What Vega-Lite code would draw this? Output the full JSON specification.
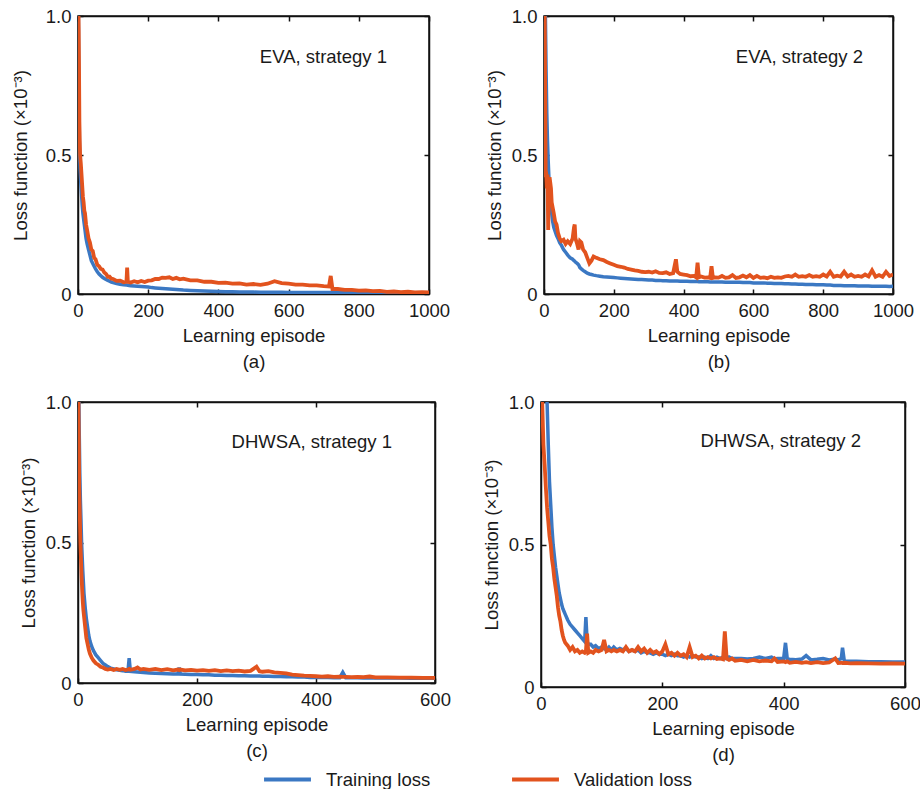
{
  "$schema": "https://vega.github.io/schema/vega-lite/v6.json",
  "background": "white",
  "padding": {"left": 10, "top": 6, "right": 0, "bottom": 0},
  "datasets": {
    "a": [
      {"x":0,"t":1.2,"v":1.2},{"x":1,"t":1.0,"v":1.05},{"x":2,"t":0.82,"v":0.95},{"x":3,"t":0.68,"v":0.8},{"x":4,"t":0.55,"v":0.62},{"x":5,"t":0.5,"v":0.55},{"x":6,"t":0.45,"v":0.5},{"x":8,"t":0.4,"v":0.47},{"x":10,"t":0.36,"v":0.43},{"x":12,"t":0.32,"v":0.39},{"x":14,"t":0.29,"v":0.35},{"x":16,"t":0.27,"v":0.33},{"x":18,"t":0.25,"v":0.30},{"x":20,"t":0.23,"v":0.29},{"x":23,"t":0.2,"v":0.25},{"x":26,"t":0.18,"v":0.23},{"x":30,"t":0.16,"v":0.2},{"x":34,"t":0.14,"v":0.185},{"x":38,"t":0.12,"v":0.16},{"x":42,"t":0.11,"v":0.155},{"x":46,"t":0.1,"v":0.13},{"x":50,"t":0.09,"v":0.125},{"x":55,"t":0.08,"v":0.105},{"x":60,"t":0.072,"v":0.1},{"x":65,"t":0.066,"v":0.09},{"x":70,"t":0.06,"v":0.088},{"x":75,"t":0.056,"v":0.077},{"x":80,"t":0.052,"v":0.072},{"x":85,"t":0.049,"v":0.062},{"x":90,"t":0.046,"v":0.062},{"x":95,"t":0.043,"v":0.055},{"x":100,"t":0.041,"v":0.054},{"x":110,"t":0.038,"v":0.047},{"x":120,"t":0.035,"v":0.048},{"x":130,"t":0.033,"v":0.042},{"x":138,"t":0.032,"v":0.044},{"x":140,"t":0.032,"v":0.095},{"x":142,"t":0.031,"v":0.044},{"x":150,"t":0.03,"v":0.041},{"x":160,"t":0.029,"v":0.046},{"x":170,"t":0.028,"v":0.042},{"x":180,"t":0.027,"v":0.047},{"x":190,"t":0.026,"v":0.043},{"x":200,"t":0.025,"v":0.048},{"x":210,"t":0.023,"v":0.049},{"x":220,"t":0.022,"v":0.054},{"x":230,"t":0.021,"v":0.054},{"x":240,"t":0.02,"v":0.059},{"x":250,"t":0.019,"v":0.058},{"x":260,"t":0.018,"v":0.06},{"x":270,"t":0.017,"v":0.054},{"x":280,"t":0.016,"v":0.058},{"x":290,"t":0.015,"v":0.053},{"x":300,"t":0.014,"v":0.055},{"x":320,"t":0.013,"v":0.049},{"x":340,"t":0.012,"v":0.049},{"x":360,"t":0.011,"v":0.044},{"x":380,"t":0.01,"v":0.044},{"x":400,"t":0.009,"v":0.04},{"x":420,"t":0.0085,"v":0.041},{"x":440,"t":0.008,"v":0.037},{"x":460,"t":0.0075,"v":0.038},{"x":480,"t":0.007,"v":0.034},{"x":500,"t":0.0068,"v":0.036},{"x":520,"t":0.0065,"v":0.033},{"x":540,"t":0.0062,"v":0.037},{"x":560,"t":0.006,"v":0.046},{"x":580,"t":0.006,"v":0.039},{"x":600,"t":0.0058,"v":0.037},{"x":620,"t":0.0056,"v":0.034},{"x":640,"t":0.0055,"v":0.034},{"x":660,"t":0.0053,"v":0.031},{"x":680,"t":0.0052,"v":0.031},{"x":700,"t":0.005,"v":0.028},{"x":715,"t":0.005,"v":0.027},{"x":720,"t":0.005,"v":0.065},{"x":725,"t":0.005,"v":0.018},{"x":740,"t":0.0048,"v":0.018},{"x":760,"t":0.0047,"v":0.015},{"x":780,"t":0.0046,"v":0.015},{"x":800,"t":0.0045,"v":0.012},{"x":820,"t":0.0044,"v":0.013},{"x":840,"t":0.0043,"v":0.01},{"x":860,"t":0.0042,"v":0.011},{"x":880,"t":0.0041,"v":0.008},{"x":900,"t":0.004,"v":0.009},{"x":920,"t":0.004,"v":0.007},{"x":940,"t":0.0039,"v":0.008},{"x":960,"t":0.0038,"v":0.006},{"x":980,"t":0.0037,"v":0.007},{"x":1000,"t":0.0036,"v":0.006}
    ],
    "b": [
      {"x":0,"t":1.2,"v":1.2},{"x":2,"t":1.1,"v":1.0},{"x":4,"t":1.0,"v":0.6},{"x":5,"t":0.9,"v":0.42},{"x":6,"t":0.8,"v":0.44},{"x":8,"t":0.65,"v":0.38},{"x":10,"t":0.55,"v":0.43},{"x":12,"t":0.48,"v":0.23},{"x":14,"t":0.42,"v":0.36},{"x":16,"t":0.38,"v":0.42},{"x":18,"t":0.34,"v":0.4},{"x":20,"t":0.31,"v":0.38},{"x":22,"t":0.29,"v":0.33},{"x":25,"t":0.26,"v":0.31},{"x":28,"t":0.24,"v":0.29},{"x":32,"t":0.225,"v":0.26},{"x":36,"t":0.21,"v":0.25},{"x":40,"t":0.2,"v":0.22},{"x":45,"t":0.185,"v":0.2},{"x":50,"t":0.175,"v":0.19},{"x":56,"t":0.16,"v":0.195},{"x":62,"t":0.15,"v":0.18},{"x":68,"t":0.14,"v":0.19},{"x":75,"t":0.13,"v":0.18},{"x":82,"t":0.125,"v":0.2},{"x":86,"t":0.12,"v":0.24},{"x":88,"t":0.118,"v":0.25},{"x":90,"t":0.115,"v":0.2},{"x":95,"t":0.11,"v":0.18},{"x":99,"t":0.105,"v":0.16},{"x":103,"t":0.095,"v":0.19},{"x":107,"t":0.09,"v":0.185},{"x":112,"t":0.085,"v":0.16},{"x":118,"t":0.08,"v":0.15},{"x":124,"t":0.075,"v":0.13},{"x":130,"t":0.072,"v":0.11},{"x":136,"t":0.07,"v":0.12},{"x":142,"t":0.068,"v":0.135},{"x":150,"t":0.066,"v":0.13},{"x":160,"t":0.064,"v":0.125},{"x":170,"t":0.062,"v":0.122},{"x":180,"t":0.061,"v":0.115},{"x":190,"t":0.06,"v":0.11},{"x":200,"t":0.059,"v":0.105},{"x":210,"t":0.058,"v":0.1},{"x":220,"t":0.057,"v":0.098},{"x":230,"t":0.056,"v":0.095},{"x":240,"t":0.055,"v":0.09},{"x":250,"t":0.054,"v":0.088},{"x":260,"t":0.053,"v":0.085},{"x":270,"t":0.052,"v":0.083},{"x":280,"t":0.052,"v":0.08},{"x":290,"t":0.051,"v":0.079},{"x":300,"t":0.05,"v":0.08},{"x":310,"t":0.05,"v":0.077},{"x":320,"t":0.049,"v":0.082},{"x":330,"t":0.049,"v":0.076},{"x":340,"t":0.048,"v":0.075},{"x":350,"t":0.048,"v":0.078},{"x":360,"t":0.047,"v":0.072},{"x":370,"t":0.047,"v":0.075},{"x":378,"t":0.047,"v":0.125},{"x":382,"t":0.047,"v":0.08},{"x":390,"t":0.046,"v":0.072},{"x":400,"t":0.046,"v":0.07},{"x":410,"t":0.046,"v":0.068},{"x":420,"t":0.045,"v":0.064},{"x":430,"t":0.045,"v":0.065},{"x":436,"t":0.045,"v":0.06},{"x":440,"t":0.045,"v":0.113},{"x":444,"t":0.044,"v":0.06},{"x":450,"t":0.044,"v":0.063},{"x":460,"t":0.044,"v":0.059},{"x":470,"t":0.044,"v":0.06},{"x":476,"t":0.043,"v":0.058},{"x":480,"t":0.043,"v":0.1},{"x":484,"t":0.043,"v":0.058},{"x":490,"t":0.043,"v":0.06},{"x":500,"t":0.043,"v":0.059},{"x":510,"t":0.043,"v":0.065},{"x":520,"t":0.042,"v":0.058},{"x":530,"t":0.042,"v":0.06},{"x":540,"t":0.042,"v":0.068},{"x":550,"t":0.042,"v":0.058},{"x":560,"t":0.042,"v":0.06},{"x":570,"t":0.041,"v":0.066},{"x":580,"t":0.041,"v":0.06},{"x":590,"t":0.041,"v":0.068},{"x":600,"t":0.04,"v":0.058},{"x":610,"t":0.04,"v":0.065},{"x":620,"t":0.04,"v":0.058},{"x":630,"t":0.04,"v":0.06},{"x":640,"t":0.039,"v":0.057},{"x":650,"t":0.039,"v":0.062},{"x":660,"t":0.038,"v":0.058},{"x":670,"t":0.038,"v":0.06},{"x":680,"t":0.038,"v":0.058},{"x":690,"t":0.037,"v":0.063},{"x":700,"t":0.037,"v":0.065},{"x":710,"t":0.036,"v":0.062},{"x":720,"t":0.036,"v":0.07},{"x":730,"t":0.035,"v":0.062},{"x":740,"t":0.035,"v":0.064},{"x":750,"t":0.034,"v":0.062},{"x":760,"t":0.034,"v":0.068},{"x":770,"t":0.034,"v":0.062},{"x":780,"t":0.033,"v":0.064},{"x":790,"t":0.033,"v":0.062},{"x":800,"t":0.033,"v":0.07},{"x":810,"t":0.032,"v":0.063},{"x":820,"t":0.032,"v":0.08},{"x":830,"t":0.031,"v":0.062},{"x":840,"t":0.031,"v":0.066},{"x":850,"t":0.031,"v":0.063},{"x":860,"t":0.03,"v":0.08},{"x":870,"t":0.03,"v":0.063},{"x":880,"t":0.03,"v":0.07},{"x":890,"t":0.03,"v":0.062},{"x":900,"t":0.029,"v":0.065},{"x":910,"t":0.029,"v":0.062},{"x":920,"t":0.029,"v":0.07},{"x":930,"t":0.029,"v":0.063},{"x":940,"t":0.028,"v":0.085},{"x":950,"t":0.028,"v":0.062},{"x":960,"t":0.028,"v":0.068},{"x":970,"t":0.028,"v":0.062},{"x":980,"t":0.028,"v":0.08},{"x":990,"t":0.027,"v":0.065},{"x":1000,"t":0.028,"v":0.07}
    ],
    "c": [
      {"x":0,"t":1.2,"v":1.2},{"x":1,"t":1.1,"v":0.95},{"x":2,"t":0.9,"v":0.7},{"x":3,"t":0.75,"v":0.6},{"x":4,"t":0.65,"v":0.5},{"x":5,"t":0.58,"v":0.44},{"x":6,"t":0.5,"v":0.38},{"x":7,"t":0.45,"v":0.33},{"x":8,"t":0.4,"v":0.29},{"x":9,"t":0.36,"v":0.26},{"x":10,"t":0.32,"v":0.24},{"x":12,"t":0.27,"v":0.2},{"x":14,"t":0.23,"v":0.16},{"x":16,"t":0.2,"v":0.14},{"x":18,"t":0.17,"v":0.12},{"x":20,"t":0.15,"v":0.105},{"x":23,"t":0.13,"v":0.09},{"x":26,"t":0.115,"v":0.08},{"x":30,"t":0.1,"v":0.07},{"x":34,"t":0.09,"v":0.065},{"x":38,"t":0.08,"v":0.058},{"x":42,"t":0.07,"v":0.055},{"x":46,"t":0.064,"v":0.05},{"x":50,"t":0.058,"v":0.048},{"x":55,"t":0.053,"v":0.05},{"x":60,"t":0.05,"v":0.046},{"x":65,"t":0.047,"v":0.05},{"x":70,"t":0.045,"v":0.047},{"x":75,"t":0.044,"v":0.05},{"x":80,"t":0.042,"v":0.046},{"x":84,"t":0.042,"v":0.048},{"x":86,"t":0.088,"v":0.05},{"x":88,"t":0.041,"v":0.047},{"x":95,"t":0.04,"v":0.05},{"x":100,"t":0.039,"v":0.055},{"x":105,"t":0.038,"v":0.048},{"x":110,"t":0.037,"v":0.05},{"x":120,"t":0.036,"v":0.047},{"x":130,"t":0.035,"v":0.05},{"x":140,"t":0.034,"v":0.046},{"x":150,"t":0.033,"v":0.049},{"x":160,"t":0.032,"v":0.045},{"x":168,"t":0.032,"v":0.048},{"x":170,"t":0.055,"v":0.046},{"x":172,"t":0.032,"v":0.048},{"x":180,"t":0.031,"v":0.045},{"x":190,"t":0.03,"v":0.047},{"x":200,"t":0.03,"v":0.044},{"x":210,"t":0.029,"v":0.046},{"x":220,"t":0.029,"v":0.043},{"x":230,"t":0.028,"v":0.046},{"x":240,"t":0.028,"v":0.042},{"x":250,"t":0.027,"v":0.045},{"x":260,"t":0.027,"v":0.042},{"x":270,"t":0.026,"v":0.044},{"x":280,"t":0.026,"v":0.041},{"x":290,"t":0.025,"v":0.043},{"x":300,"t":0.025,"v":0.058},{"x":305,"t":0.025,"v":0.042},{"x":310,"t":0.024,"v":0.04},{"x":320,"t":0.024,"v":0.042},{"x":330,"t":0.023,"v":0.038},{"x":340,"t":0.023,"v":0.036},{"x":350,"t":0.022,"v":0.034},{"x":360,"t":0.022,"v":0.03},{"x":370,"t":0.021,"v":0.028},{"x":380,"t":0.021,"v":0.026},{"x":390,"t":0.02,"v":0.025},{"x":400,"t":0.02,"v":0.024},{"x":410,"t":0.02,"v":0.023},{"x":420,"t":0.02,"v":0.024},{"x":430,"t":0.019,"v":0.022},{"x":440,"t":0.019,"v":0.023},{"x":445,"t":0.038,"v":0.022},{"x":450,"t":0.019,"v":0.022},{"x":460,"t":0.019,"v":0.021},{"x":470,"t":0.019,"v":0.022},{"x":480,"t":0.018,"v":0.021},{"x":490,"t":0.018,"v":0.023},{"x":500,"t":0.018,"v":0.02},{"x":520,"t":0.018,"v":0.02},{"x":540,"t":0.018,"v":0.019},{"x":560,"t":0.017,"v":0.019},{"x":580,"t":0.017,"v":0.018},{"x":600,"t":0.017,"v":0.018}
    ],
    "d": [
      {"x":0,"t":1.3,"v":1.2},{"x":2,"t":1.2,"v":1.0},{"x":4,"t":1.1,"v":0.85},{"x":6,"t":1.05,"v":0.78},{"x":8,"t":1.02,"v":0.7},{"x":10,"t":1.0,"v":0.63},{"x":12,"t":0.85,"v":0.58},{"x":14,"t":0.72,"v":0.53},{"x":16,"t":0.64,"v":0.5},{"x":18,"t":0.56,"v":0.45},{"x":20,"t":0.5,"v":0.42},{"x":22,"t":0.46,"v":0.38},{"x":24,"t":0.42,"v":0.35},{"x":26,"t":0.39,"v":0.32},{"x":28,"t":0.36,"v":0.28},{"x":30,"t":0.33,"v":0.25},{"x":32,"t":0.31,"v":0.23},{"x":34,"t":0.29,"v":0.2},{"x":36,"t":0.275,"v":0.18},{"x":38,"t":0.265,"v":0.165},{"x":40,"t":0.255,"v":0.155},{"x":44,"t":0.235,"v":0.145},{"x":48,"t":0.22,"v":0.13},{"x":52,"t":0.21,"v":0.14},{"x":56,"t":0.2,"v":0.125},{"x":60,"t":0.19,"v":0.13},{"x":64,"t":0.18,"v":0.12},{"x":68,"t":0.17,"v":0.125},{"x":72,"t":0.16,"v":0.12},{"x":74,"t":0.245,"v":0.125},{"x":76,"t":0.16,"v":0.187},{"x":78,"t":0.15,"v":0.12},{"x":82,"t":0.15,"v":0.125},{"x":86,"t":0.14,"v":0.12},{"x":90,"t":0.145,"v":0.13},{"x":95,"t":0.135,"v":0.125},{"x":100,"t":0.14,"v":0.13},{"x":104,"t":0.135,"v":0.165},{"x":108,"t":0.13,"v":0.125},{"x":112,"t":0.14,"v":0.13},{"x":116,"t":0.13,"v":0.125},{"x":120,"t":0.14,"v":0.13},{"x":125,"t":0.13,"v":0.125},{"x":130,"t":0.135,"v":0.13},{"x":135,"t":0.13,"v":0.125},{"x":140,"t":0.135,"v":0.14},{"x":145,"t":0.125,"v":0.125},{"x":150,"t":0.13,"v":0.13},{"x":155,"t":0.125,"v":0.125},{"x":160,"t":0.13,"v":0.14},{"x":165,"t":0.12,"v":0.125},{"x":170,"t":0.125,"v":0.135},{"x":175,"t":0.12,"v":0.12},{"x":180,"t":0.12,"v":0.13},{"x":185,"t":0.115,"v":0.12},{"x":190,"t":0.12,"v":0.125},{"x":195,"t":0.115,"v":0.115},{"x":200,"t":0.115,"v":0.125},{"x":205,"t":0.11,"v":0.15},{"x":210,"t":0.115,"v":0.115},{"x":215,"t":0.11,"v":0.12},{"x":220,"t":0.115,"v":0.11},{"x":225,"t":0.11,"v":0.12},{"x":230,"t":0.11,"v":0.11},{"x":235,"t":0.105,"v":0.115},{"x":240,"t":0.11,"v":0.105},{"x":245,"t":0.105,"v":0.14},{"x":250,"t":0.11,"v":0.105},{"x":255,"t":0.105,"v":0.11},{"x":260,"t":0.105,"v":0.1},{"x":265,"t":0.1,"v":0.11},{"x":270,"t":0.105,"v":0.1},{"x":275,"t":0.1,"v":0.105},{"x":280,"t":0.11,"v":0.1},{"x":285,"t":0.1,"v":0.105},{"x":290,"t":0.105,"v":0.098},{"x":295,"t":0.1,"v":0.1},{"x":300,"t":0.105,"v":0.097},{"x":303,"t":0.1,"v":0.195},{"x":306,"t":0.1,"v":0.1},{"x":310,"t":0.105,"v":0.095},{"x":315,"t":0.1,"v":0.1},{"x":320,"t":0.1,"v":0.092},{"x":330,"t":0.1,"v":0.095},{"x":340,"t":0.098,"v":0.09},{"x":350,"t":0.1,"v":0.095},{"x":360,"t":0.105,"v":0.09},{"x":370,"t":0.1,"v":0.093},{"x":380,"t":0.105,"v":0.09},{"x":385,"t":0.098,"v":0.1},{"x":390,"t":0.1,"v":0.088},{"x":400,"t":0.1,"v":0.09},{"x":403,"t":0.155,"v":0.087},{"x":406,"t":0.098,"v":0.09},{"x":410,"t":0.097,"v":0.085},{"x":420,"t":0.096,"v":0.088},{"x":430,"t":0.098,"v":0.085},{"x":437,"t":0.11,"v":0.087},{"x":445,"t":0.095,"v":0.084},{"x":455,"t":0.097,"v":0.087},{"x":465,"t":0.1,"v":0.084},{"x":475,"t":0.095,"v":0.086},{"x":485,"t":0.098,"v":0.1},{"x":490,"t":0.095,"v":0.084},{"x":495,"t":0.1,"v":0.085},{"x":497,"t":0.138,"v":0.084},{"x":500,"t":0.09,"v":0.085},{"x":510,"t":0.09,"v":0.083},{"x":520,"t":0.09,"v":0.084},{"x":540,"t":0.089,"v":0.083},{"x":560,"t":0.089,"v":0.082},{"x":580,"t":0.088,"v":0.083},{"x":600,"t":0.088,"v":0.082}
    ]
  },
  "vconcat": [
    {
      "hconcat": [
        {
          "width": 351, "height": 278,
          "data": {"name": "a"},
          "title": {"text": "EVA, strategy 1", "dx": -42, "dy": 63},
          "resolve": {"axis": {"x": "independent", "y": "independent"}},
          "layer": [
            {"mark": {"type": "line", "strokeWidth": 3.5, "clip": true},
             "encoding": {
               "x": {"field": "x", "type": "quantitative", "scale": {"domain": [0, 1000]}, "axis": {"values": [0, 200, 400, 600, 800, 1000], "format": "d", "title": ["Learning episode", "(a)"]}},
               "y": {"field": "t", "type": "quantitative", "scale": {"domain": [0, 1]}, "axis": {"values": [0, 0.5, 1], "labelExpr": "datum.value == 0 ? '0' : format(datum.value, '.1f')", "title": "Loss function (×10⁻³)", "titlePadding": 15}},
               "color": {"datum": "Training loss", "type": "nominal", "scale": {"domain": ["Training loss", "Validation loss"], "range": ["#3b78c3", "#e2531e"]}, "legend": {"title": null, "orient": "none", "legendX": 184, "legendY": 738}}}},
            {"mark": {"type": "line", "strokeWidth": 3.8, "clip": true},
             "encoding": {
               "x": {"field": "x", "type": "quantitative", "scale": {"domain": [0, 1000]}, "axis": {"orient": "top", "values": [0, 200, 400, 600, 800, 1000], "labels": false, "title": null}},
               "y": {"field": "v", "type": "quantitative", "scale": {"domain": [0, 1]}, "axis": {"orient": "right", "values": [0, 0.5, 1], "labels": false, "title": null}},
               "color": {"datum": "Validation loss", "type": "nominal"}}}
          ]
        },
        {
          "width": 349, "height": 278,
          "data": {"name": "b"},
          "title": {"text": "EVA, strategy 2", "dx": -30, "dy": 63},
          "resolve": {"axis": {"x": "independent", "y": "independent"}},
          "layer": [
            {"mark": {"type": "line", "strokeWidth": 3.5, "clip": true},
             "encoding": {
               "x": {"field": "x", "type": "quantitative", "scale": {"domain": [0, 1000]}, "axis": {"values": [0, 200, 400, 600, 800, 1000], "format": "d", "title": ["Learning episode", "(b)"]}},
               "y": {"field": "t", "type": "quantitative", "scale": {"domain": [0, 1]}, "axis": {"values": [0, 0.5, 1], "labelExpr": "datum.value == 0 ? '0' : format(datum.value, '.1f')", "title": "Loss function (×10⁻³)"}},
               "color": {"datum": "Training loss", "type": "nominal", "scale": {"domain": ["Training loss", "Validation loss"], "range": ["#3b78c3", "#e2531e"]}, "legend": {"title": null}}}},
            {"mark": {"type": "line", "strokeWidth": 3.8, "clip": true},
             "encoding": {
               "x": {"field": "x", "type": "quantitative", "scale": {"domain": [0, 1000]}, "axis": {"orient": "top", "values": [0, 200, 400, 600, 800, 1000], "labels": false, "title": null}},
               "y": {"field": "v", "type": "quantitative", "scale": {"domain": [0, 1]}, "axis": {"orient": "right", "values": [0, 0.5, 1], "labels": false, "title": null}},
               "color": {"datum": "Validation loss", "type": "nominal"}}}
          ]
        }
      ],
      "spacing": 33
    },
    {
      "hconcat": [
        {
          "width": 357, "height": 281,
          "data": {"name": "c"},
          "title": {"text": "DHWSA, strategy 1", "dx": -43, "dy": 62},
          "resolve": {"axis": {"x": "independent", "y": "independent"}},
          "layer": [
            {"mark": {"type": "line", "strokeWidth": 3.5, "clip": true},
             "encoding": {
               "x": {"field": "x", "type": "quantitative", "scale": {"domain": [0, 600]}, "axis": {"values": [0, 200, 400, 600], "format": "d", "title": ["Learning episode", "(c)"]}},
               "y": {"field": "t", "type": "quantitative", "scale": {"domain": [0, 1]}, "axis": {"values": [0, 0.5, 1], "labelExpr": "datum.value == 0 ? '0' : format(datum.value, '.1f')", "title": "Loss function (×10⁻³)"}},
               "color": {"datum": "Training loss", "type": "nominal", "scale": {"domain": ["Training loss", "Validation loss"], "range": ["#3b78c3", "#e2531e"]}, "legend": {"title": null}}}},
            {"mark": {"type": "line", "strokeWidth": 3.8, "clip": true},
             "encoding": {
               "x": {"field": "x", "type": "quantitative", "scale": {"domain": [0, 600]}, "axis": {"orient": "top", "values": [0, 200, 400, 600], "labels": false, "title": null}},
               "y": {"field": "v", "type": "quantitative", "scale": {"domain": [0, 1]}, "axis": {"orient": "right", "values": [0, 0.5, 1], "labels": false, "title": null}},
               "color": {"datum": "Validation loss", "type": "nominal"}}}
          ]
        },
        {
          "width": 364, "height": 285,
          "data": {"name": "d"},
          "title": {"text": "DHWSA, strategy 2", "dx": -44, "dy": 61},
          "resolve": {"axis": {"x": "independent", "y": "independent"}},
          "layer": [
            {"mark": {"type": "line", "strokeWidth": 3.5, "clip": true},
             "encoding": {
               "x": {"field": "x", "type": "quantitative", "scale": {"domain": [0, 600]}, "axis": {"values": [0, 200, 400, 600], "format": "d", "title": ["Learning episode", "(d)"]}},
               "y": {"field": "t", "type": "quantitative", "scale": {"domain": [0, 1]}, "axis": {"values": [0, 0.5, 1], "labelExpr": "datum.value == 0 ? '0' : format(datum.value, '.1f')", "title": "Loss function (×10⁻³)"}},
               "color": {"datum": "Training loss", "type": "nominal", "scale": {"domain": ["Training loss", "Validation loss"], "range": ["#3b78c3", "#e2531e"]}, "legend": {"title": null}}}},
            {"mark": {"type": "line", "strokeWidth": 3.8, "clip": true},
             "encoding": {
               "x": {"field": "x", "type": "quantitative", "scale": {"domain": [0, 600]}, "axis": {"orient": "top", "values": [0, 200, 400, 600], "labels": false, "title": null}},
               "y": {"field": "v", "type": "quantitative", "scale": {"domain": [0, 1]}, "axis": {"orient": "right", "values": [0, 0.5, 1], "labels": false, "title": null}},
               "color": {"datum": "Validation loss", "type": "nominal"}}}
          ]
        }
      ],
      "spacing": 29
    }
  ],
  "spacing": 20,
  "resolve": {"scale": {"color": "shared"}, "legend": {"color": "shared"}},
  "config": {
    "font": "Liberation Sans",
    "view": {"stroke": "#111", "strokeWidth": 1.5},
    "axis": {
      "grid": false, "labelFlush": false,
      "domainColor": "#111", "domainWidth": 1.5,
      "tickColor": "#111", "tickWidth": 1.5, "tickSize": -5,
      "labelFontSize": 18.5, "labelColor": "#1a1a1a", "labelPadding": 12,
      "titleFontSize": 18.6, "titleColor": "#1a1a1a", "titleFontWeight": "normal", "titlePadding": 7, "titleLineHeight": 26
    },
    "title": {"orient": "top", "anchor": "end", "frame": "group", "fontSize": 18.5, "fontWeight": "normal", "color": "#1a1a1a", "baseline": "middle", "offset": 0},
    "legend": {
      "direction": "horizontal",
      "symbolType": "stroke", "symbolSize": 2200, "symbolStrokeWidth": 4,
      "labelFontSize": 18.5, "labelColor": "#1a1a1a", "labelOffset": 13, "columnPadding": 73, "padding": 0
    }
  }
}
